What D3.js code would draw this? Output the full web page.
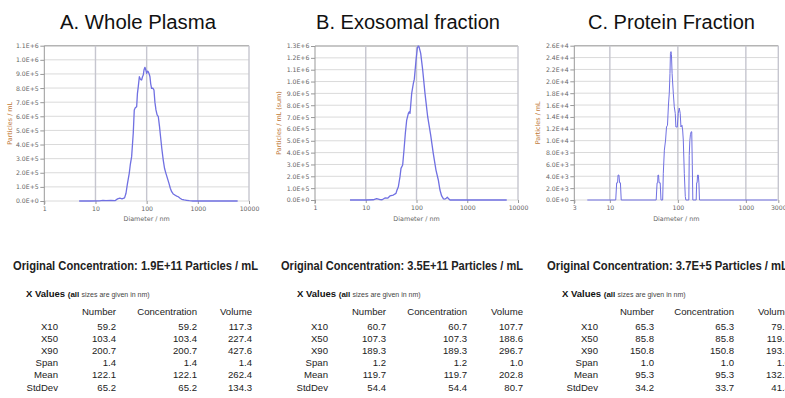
<!DOCTYPE html>
<html>
<head>
<meta charset="utf-8">
<script src="https://cdn.jsdelivr.net/npm/d3@7"></script>
<style>
  html, body { margin: 0; padding: 0; background: #fff; }
  svg { display: block; font-family: "Liberation Sans", Arial, sans-serif; }
  .tick-label { font-family: "DejaVu Sans", Verdana, sans-serif; font-size: 6.2px; fill: #666; }
  .axis-title { font-family: "DejaVu Sans", Verdana, sans-serif; font-size: 6.4px; }
</style>
</head>
<body>
<svg id="fig" width="785" height="398"></svg>
<script>
// Titres des trois panneaux
var titles = ["A. Whole Plasma", "B. Exosomal fraction", "C. Protein Fraction"];
var yLabels = ["Particles / mL", "Particles / mL (sum)", "Particles / mL"];
var concentrations = ["1.9E+11", "3.5E+11", "3.7E+5"];

// Ticks des axes
var xTicksA = [1, 10, 100, 1000, 10000];
var xTicksB = [1, 10, 100, 1000, 10000];
var xTicksC = [3, 10, 100, 1000, 3000];
var yTicksA = d3.range(0, 12).map(i => i * 1e5);
var yTicksB = d3.range(0, 14).map(i => i * 1e5);
var yTicksC = d3.range(0, 14).map(i => i * 2e3);

// A. Whole Plasma : diamètre (nm), particules/mL (x1E5)
var diamA = [4.8, 8, 12, 14, 16, 20, 24, 27, 30, 33, 37, 39.5, 42, 45.7, 48, 50.9, 54.7, 57.3, 60, 63.8, 66, 68.6, 72, 74, 77, 79.8, 83, 85.9, 89, 92.6, 96, 100, 104, 107.6, 112, 116, 120, 125, 132, 139, 145, 152, 160, 169, 178, 187, 198, 211, 224, 238, 255, 273, 290, 308, 330, 357, 385, 415, 450, 483, 540, 604, 680, 800, 6000];
var concA = [0, 0, 0.01, 0.05, 0.02, 0.04, 0.02, 0.15, 0.2, 0.15, 0.22, 0.55, 1.2, 1.96, 2.6, 3.14, 4.8, 6.45, 6.6, 6.68, 7.6, 8.1, 8.8, 8.69, 8.6, 8.57, 8.8, 8.92, 9.3, 9.47, 9.3, 9.04, 9.2, 9.16, 9.0, 8.8, 8.3, 7.98, 8.0, 7.86, 7.0, 6.45, 6.1, 5.97, 5.3, 4.55, 3.7, 2.9, 2.3, 1.96, 1.6, 1.25, 0.9, 0.66, 0.5, 0.42, 0.35, 0.3, 0.2, 0.12, 0.08, 0.05, 0.02, 0, 0];

// B. Exosomal fraction (x1E5)
var diamB = [4.9, 10, 14, 16.4, 19.1, 21, 23.9, 27, 30, 34.9, 39.4, 41, 43.9, 47.3, 49.5, 53.4, 56.7, 60.3, 64.1, 69.1, 72, 74.5, 80.4, 86.7, 90.6, 97.8, 103.8, 108, 112, 121, 132.5, 147, 166, 190, 214, 242, 269, 290, 313, 340, 365, 385, 405, 430, 457, 6000];
var concB = [0, 0, 0.02, 0.11, 0.03, 0.02, 0.17, 0.15, 0.34, 0.42, 0.56, 0.8, 1.12, 1.97, 2.67, 2.95, 4.22, 5.63, 6.75, 7.31, 7.45, 7.3, 9.0, 9.85, 10.2, 11.8, 12.8, 13.0, 12.94, 12.38, 10.97, 9.0, 7.03, 5.49, 3.94, 2.53, 1.69, 0.84, 0.34, 0.1, 0.08, 0.15, 0.23, 0.1, 0, 0];

// C. Protein Fraction (x1E3)
var diamC = [4.66, 12.2, 12.6, 13.0, 13.2, 13.6, 13.9, 14.3, 14.7, 48, 49.5, 50.5, 51, 52, 53, 55, 56.5, 59.8, 61.1, 63.3, 66, 68.1, 70.4, 72.7, 74.8, 76.6, 77.8, 79.3, 80.5, 82.3, 85.7, 88.6, 91.6, 93.6, 98, 101.3, 104.8, 108.3, 111, 114.8, 117.6, 120.2, 124.4, 128.6, 131, 145, 147, 150, 153, 157, 160, 163, 166, 186, 189, 192, 195, 200, 204, 208, 2900];
var concC = [0, 0, 2.9, 2.9, 4.2, 4.2, 2.9, 2.9, 0, 0, 2.9, 2.9, 4.2, 4.2, 2.9, 2.9, 0, 0, 4.5, 8.4, 10.1, 12.3, 12.6, 16, 18, 21.3, 24.7, 25.0, 24.5, 21.3, 18, 15.7, 14.6, 12.3, 12.3, 14.6, 15.5, 14.6, 12.3, 12.6, 11.8, 10.1, 4.5, 0.6, 0, 0, 7.5, 10.0, 11.0, 11.5, 11.5, 6.0, 0, 0, 2.9, 2.9, 4.2, 4.2, 2.9, 0, 0];

// Tableaux des X Values
var rowNames = ["X10", "X50", "X90", "Span", "Mean", "StdDev"];
var colNames = ["Number", "Concentration", "Volume"];
var tableA = [["59.2", "59.2", "117.3"], ["103.4", "103.4", "227.4"], ["200.7", "200.7", "427.6"], ["1.4", "1.4", "1.4"], ["122.1", "122.1", "262.4"], ["65.2", "65.2", "134.3"]];
var tableB = [["60.7", "60.7", "107.7"], ["107.3", "107.3", "188.6"], ["189.3", "189.3", "296.7"], ["1.2", "1.2", "1.0"], ["119.7", "119.7", "202.8"], ["54.4", "54.4", "80.7"]];
var tableC = [["65.3", "65.3", "79.2"], ["85.8", "85.8", "119.2"], ["150.8", "150.8", "193.6"], ["1.0", "1.0", "1.0"], ["95.3", "95.3", "132.7"], ["34.2", "33.7", "41.4"]];

var svg = d3.select("#fig");
var lineColor = "#7070e2";

// Mise en page de chaque panneau
var panels = [
  {title: titles[0], titleX: 60, titleW: 156, yLabel: yLabels[0], yLabelX: 12,
   left: 44.3, right: 249, top: 45.7, bottom: 201, xDomain: [1, 10000], yMax: 1.1e6,
   xTicks: xTicksA, yTicks: yTicksA, diam: diamA, conc: concA, unit: 1e5, sw: 1.3,
   concX: 13, concW: 245, table: tableA, tx: 26, cols: [58, 116, 197, 252]},
  {title: titles[1], titleX: 316, titleW: 184, yLabel: yLabels[1], yLabelX: 281,
   left: 315, right: 518, top: 46, bottom: 200, xDomain: [1, 10000], yMax: 1.3e6,
   xTicks: xTicksB, yTicks: yTicksB, diam: diamB, conc: concB, unit: 1e5, sw: 1.3,
   concX: 281, concW: 242, table: tableB, tx: 297, cols: [328, 386, 467, 523]},
  {title: titles[2], titleX: 588, titleW: 167, yLabel: yLabels[2], yLabelX: 540,
   left: 574.3, right: 778.3, top: 45.7, bottom: 200, xDomain: [3, 3000], yMax: 2.6e4,
   xTicks: xTicksC, yTicks: yTicksC, diam: diamC, conc: concC, unit: 1e3, sw: 1.0,
   concX: 547, concW: 241, table: tableC, tx: 562, cols: [598, 654, 734, 790]}
];
panels.forEach((p, i) => { p.conc = concentrations[i]; });

function fmtY(v) {
  return v.toExponential(1).replace("e", "E");
}

function drawPanel(p) {
  var x = d3.scaleLog().domain(p.xDomain).range([p.left, p.right]);
  var y = d3.scaleLinear().domain([0, p.yMax]).range([p.bottom, p.top]);
  var g = svg.append("g");

  // Titre
  g.append("text")
    .attr("x", p.titleX).attr("y", 29)
    .attr("textLength", p.titleW).attr("lengthAdjust", "spacingAndGlyphs")
    .style("font-size", "20px").style("fill", "#111")
    .text(p.title);

  // Grille horizontale
  g.selectAll(".hgrid").data(p.yTicks).enter().append("line")
    .attr("x1", p.left).attr("x2", p.right)
    .attr("y1", d => y(d)).attr("y2", d => y(d))
    .style("stroke", (d, k) => k === p.yTicks.length - 1 ? "#b4b4b4" : "#dadada")
    .style("stroke-width", (d, k) => k === p.yTicks.length - 1 ? 1.5 : 1);

  // Grille verticale (décades)
  g.selectAll(".vgrid").data(p.xTicks.slice(1)).enter().append("line")
    .attr("x1", d => x(d)).attr("x2", d => x(d))
    .attr("y1", p.top).attr("y2", p.bottom)
    .style("stroke", "#c6c6cf").style("stroke-width", 1.4);

  // Axe Y
  var axY = g.append("g").attr("transform", "translate(" + p.left + ",0)")
    .call(d3.axisLeft(y).tickValues(p.yTicks).tickFormat(fmtY).tickSize(4).tickPadding(1.5));
  axY.select(".domain").attr("d", "M0," + p.top + "V" + (p.bottom + 4)).style("stroke", "#999");
  axY.selectAll(".tick line").style("stroke", "#999");
  axY.selectAll(".tick text").attr("class", "tick-label").attr("fill", null);

  // Axe X
  var axX = g.append("g").attr("transform", "translate(0," + p.bottom + ")")
    .call(d3.axisBottom(x).tickValues(p.xTicks).tickFormat(d3.format("d")).tickSize(3).tickPadding(3));
  axX.select(".domain").remove();
  axX.selectAll(".tick line").style("stroke", "#999");
  axX.selectAll(".tick text").attr("class", "tick-label").attr("fill", null);

  // Titres des axes
  g.append("text").attr("class", "axis-title")
    .attr("x", (p.left + p.right) / 2).attr("y", 221)
    .attr("text-anchor", "middle").style("fill", "#666")
    .text("Diameter / nm");
  g.append("text").attr("class", "axis-title")
    .attr("transform", "translate(" + p.yLabelX + "," + ((p.top + p.bottom) / 2) + ") rotate(-90)")
    .attr("text-anchor", "middle").style("fill", "#c0783a")
    .text(p.yLabel);

  // Courbe de distribution
  var pts = p.diam.map((d, k) => [d, p.conc_values[k] * p.unit]);
  g.append("path").datum(pts)
    .attr("d", d3.line().x(d => x(d[0])).y(d => y(d[1])))
    .style("fill", "none").style("stroke", lineColor)
    .style("stroke-width", p.sw).style("stroke-linejoin", "round");

  // Concentration d'origine
  g.append("text")
    .attr("x", p.concX).attr("y", 270)
    .attr("textLength", p.concW).attr("lengthAdjust", "spacingAndGlyphs")
    .style("font-size", "12px").style("font-weight", "bold").style("fill", "#222")
    .text("Original Concentration:  " + p.conc + "  Particles / mL");

  // Tableau X Values
  var xv = g.append("text").attr("x", p.tx).attr("y", 297).style("fill", "#111");
  xv.append("tspan").style("font-size", "9.5px").style("font-weight", "bold").text("X Values ");
  xv.append("tspan").style("font-size", "8px").style("font-weight", "bold").text("(all ");
  xv.append("tspan").style("font-size", "7px").style("fill", "#444").text("sizes are given in nm)");

  colNames.forEach((c, k) => {
    g.append("text").attr("x", p.cols[k + 1]).attr("y", 315)
      .attr("text-anchor", "end").style("font-size", "9.6px").style("fill", "#222").text(c);
  });
  rowNames.forEach((r, j) => {
    var yy = 329.5 + j * 12.2;
    g.append("text").attr("x", p.cols[0]).attr("y", yy)
      .attr("text-anchor", "end").style("font-size", "9.6px").style("fill", "#222").text(r);
    p.table[j].forEach((v, k) => {
      g.append("text").attr("x", p.cols[k + 1]).attr("y", yy)
        .attr("text-anchor", "end").style("font-size", "9.6px").style("fill", "#222").text(v);
    });
  });
}

var concSeries = [concA, concB, concC];
panels.forEach((p, i) => { p.conc_values = concSeries[i]; drawPanel(p); });
</script>
</body>
</html>
